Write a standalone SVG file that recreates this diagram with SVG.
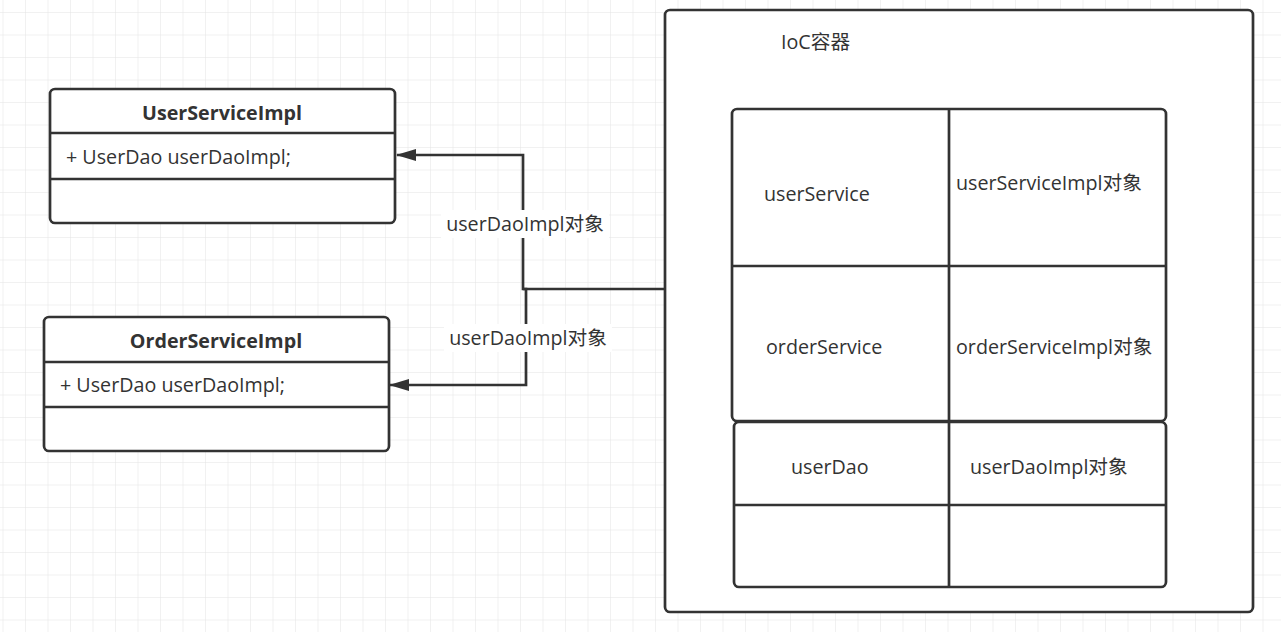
<svg xmlns="http://www.w3.org/2000/svg" width="1281" height="632" viewBox="0 0 1281 632">
<defs>
<pattern id="grid" x="2.5" y="12" width="22.5" height="22.5" patternUnits="userSpaceOnUse">
<path d="M0 0H22.5M0 0V22.5" fill="none" stroke="#e4e4e4" stroke-width="1"/>
</pattern>
<marker id="arr" markerWidth="20" markerHeight="14" refX="19" refY="7" orient="auto" markerUnits="userSpaceOnUse" viewBox="0 0 20 14">
<path d="M20 7L0 1V13Z" fill="#333"/>
</marker>
<style>
.box{fill:#fff;stroke:#333;stroke-width:2.7}
.ln{stroke:#333;stroke-width:2.7;fill:none}
.t{font-family:"Open Sans","Noto Sans CJK SC",sans-serif;font-size:19.7px;fill:#333}
.b{font-weight:bold;text-anchor:middle}
.lab{font-family:"Open Sans","Noto Sans CJK SC",sans-serif;font-size:19.7px;fill:#333;text-anchor:middle}
</style>
</defs>
<rect width="1281" height="632" fill="#fff"/>
<rect width="1281" height="632" fill="url(#grid)"/>
<g id="connectors">
<path class="ln" d="M664 289H523V155H397" marker-end="url(#arr)"/>
<path class="ln" d="M523 289H526V385H390" marker-end="url(#arr)"/>
<rect x="441" y="210" width="168" height="28" fill="#fff"/>
<text class="lab" x="525" y="231">userDaoImpl对象</text>
<rect x="444" y="324" width="168" height="28" fill="#fff"/>
<text class="lab" x="528" y="345">userDaoImpl对象</text>
</g>
<g id="UserServiceImpl">
<rect class="box" x="50" y="89" width="345" height="134" rx="5"/>
<line class="ln" x1="50" y1="133" x2="395" y2="133"/>
<line class="ln" x1="50" y1="179" x2="395" y2="179"/>
<text class="t b" x="222" y="120">UserServiceImpl</text>
<text class="t" x="66" y="164">+ UserDao userDaoImpl;</text>
</g>
<g id="OrderServiceImpl">
<rect class="box" x="44" y="317" width="345" height="134" rx="5"/>
<line class="ln" x1="44" y1="362" x2="389" y2="362"/>
<line class="ln" x1="44" y1="407" x2="389" y2="407"/>
<text class="t b" x="216" y="348">OrderServiceImpl</text>
<text class="t" x="60" y="392">+ UserDao userDaoImpl;</text>
</g>
<g id="IoC">
<rect class="box" x="665" y="10" width="588" height="602" rx="5"/>
<text class="t" x="781" y="49">IoC容器</text>
</g>
<g id="table1">
<rect class="box" x="732" y="109" width="434" height="312" rx="5"/>
<line class="ln" x1="949" y1="109" x2="949" y2="421"/>
<line class="ln" x1="732" y1="266" x2="1166" y2="266"/>
<text class="t" x="764" y="201">userService</text>
<text class="t" x="956" y="190">userServiceImpl对象</text>
<text class="t" x="766" y="354">orderService</text>
<text class="t" x="956" y="354">orderServiceImpl对象</text>
</g>
<g id="table2">
<rect class="box" x="734" y="422" width="432" height="165" rx="5"/>
<line class="ln" x1="949" y1="422" x2="949" y2="587"/>
<line class="ln" x1="734" y1="505" x2="1166" y2="505"/>
<text class="t" x="791" y="474">userDao</text>
<text class="t" x="970" y="474">userDaoImpl对象</text>
</g>
</svg>
